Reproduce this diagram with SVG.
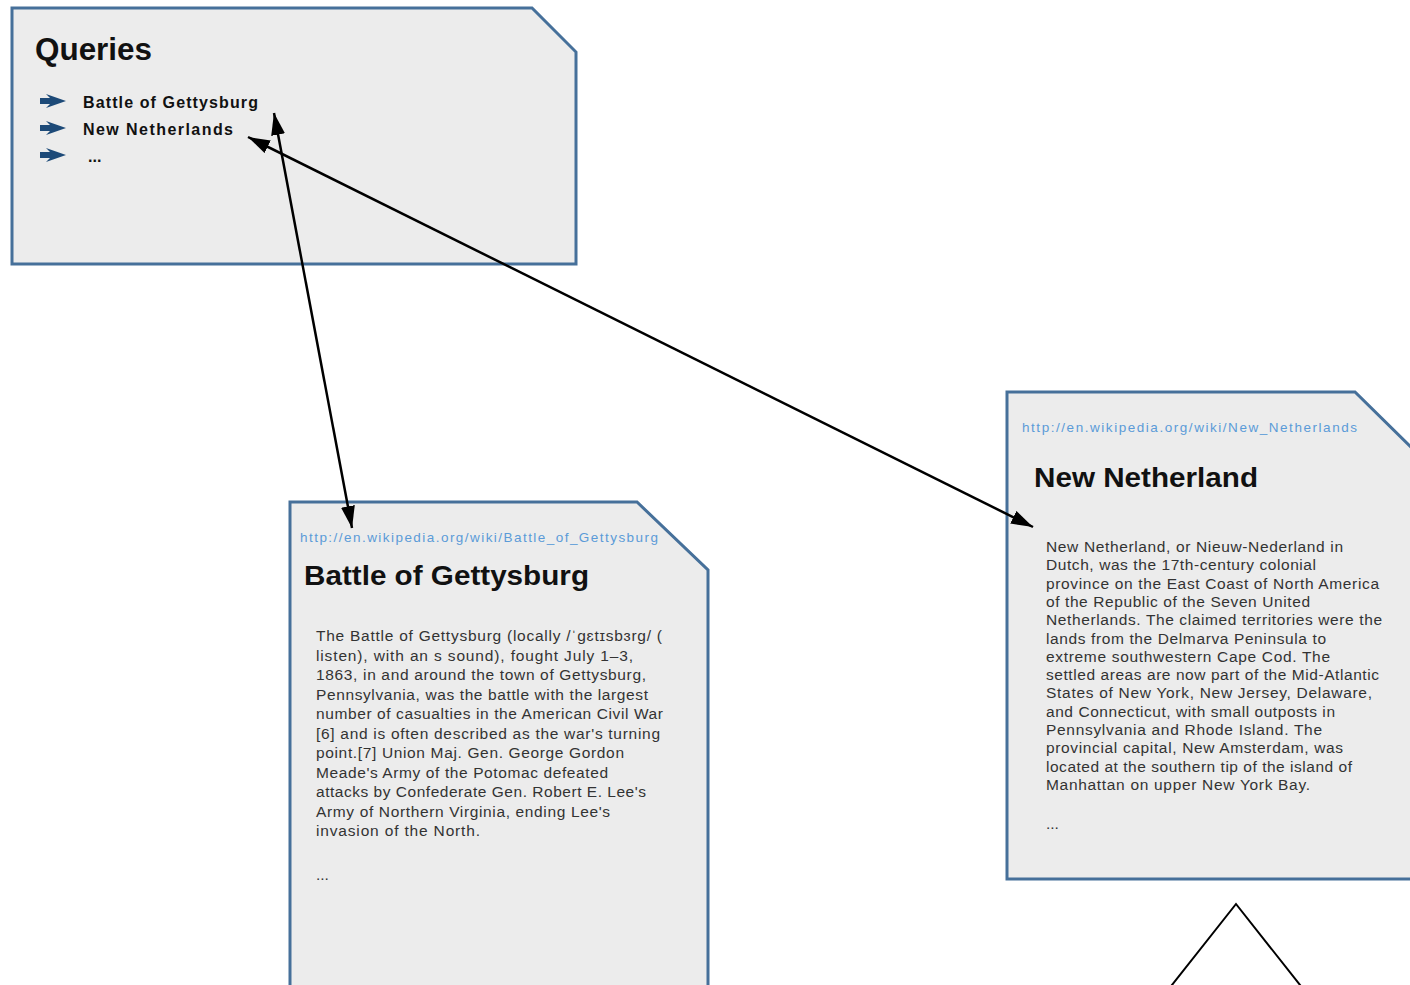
<svg xmlns="http://www.w3.org/2000/svg" width="1410" height="985" viewBox="0 0 1410 985">
  <style>
    .card { fill: #ececec; stroke: #46709a; stroke-width: 3; stroke-linejoin: miter; }
    .head { font-family: "Liberation Sans", Arial, sans-serif; font-weight: bold; fill: #111; }
    .item { font-family: "Liberation Sans", Arial, sans-serif; font-weight: bold; font-size: 16px; fill: #111; }
    .url { font-family: "Liberation Sans", Arial, sans-serif; font-size: 13.5px; fill: #5b9bd8; }
    .body { font-family: "Liberation Sans", Arial, sans-serif; font-size: 15.5px; fill: #333; }
    .bullet { fill: #1d4a78; }
    .link { stroke: #000; stroke-width: 2.5; fill: none; marker-start: url(#head); marker-end: url(#head); }
  </style>
  <defs>
    <marker id="head" markerUnits="userSpaceOnUse" markerWidth="24" markerHeight="16" refX="22" refY="7" orient="auto-start-reverse">
      <path d="M0,0 L22,7 L0,14 Z" fill="#000"/>
    </marker>
  </defs>

  <rect width="1410" height="985" fill="#fff"/>

  <!-- query list -->
  <g id="queries">
    <path class="card" d="M12,8 H532 L576,52 V264 H12 Z"/>
    <text class="head" x="35" y="60" font-size="31" textLength="117" lengthAdjust="spacingAndGlyphs">Queries</text>
    <path class="bullet" d="M40,98 H50 L46,94 L66,101 L46,108 L50,104 H40 Z"/>
    <path class="bullet" d="M40,125 H50 L46,121 L66,128 L46,135 L50,131 H40 Z"/>
    <path class="bullet" d="M40,152 H50 L46,148 L66,155 L46,162 L50,158 H40 Z"/>
    <text class="item" x="83" y="108" textLength="175" lengthAdjust="spacing">Battle of Gettysburg</text>
    <text class="item" x="83" y="135" textLength="150" lengthAdjust="spacing">New Netherlands</text>
    <text class="item" x="88" y="162" font-size="13">...</text>
  </g>

  <!-- article: Battle of Gettysburg -->
  <g id="gettysburg">
    <path class="card" d="M290,502 H637 L708,570 V995 H290 Z"/>
    <text class="url" x="300" y="542" textLength="358" lengthAdjust="spacing">http://en.wikipedia.org/wiki/Battle_of_Gettysburg</text>
    <text class="head" x="304" y="585" font-size="27" textLength="285" lengthAdjust="spacingAndGlyphs">Battle of Gettysburg</text>
    <g class="body">
      <text x="316" y="641" textLength="346" lengthAdjust="spacing">The Battle of Gettysburg (locally /ˈɡɛtɪsbɜrɡ/ (</text>
      <text x="316" y="660.5" textLength="317" lengthAdjust="spacing">listen), with an s sound), fought July 1–3,</text>
      <text x="316" y="680" textLength="330" lengthAdjust="spacing">1863, in and around the town of Gettysburg,</text>
      <text x="316" y="699.5" textLength="332" lengthAdjust="spacing">Pennsylvania, was the battle with the largest</text>
      <text x="316" y="719" textLength="347" lengthAdjust="spacing">number of casualties in the American Civil War</text>
      <text x="316" y="738.5" textLength="344" lengthAdjust="spacing">[6] and is often described as the war's turning</text>
      <text x="316" y="758" textLength="308" lengthAdjust="spacing">point.[7] Union Maj. Gen. George Gordon</text>
      <text x="316" y="777.5" textLength="292" lengthAdjust="spacing">Meade's Army of the Potomac defeated</text>
      <text x="316" y="797" textLength="330" lengthAdjust="spacing">attacks by Confederate Gen. Robert E. Lee's</text>
      <text x="316" y="816.5" textLength="294" lengthAdjust="spacing">Army of Northern Virginia, ending Lee's</text>
      <text x="316" y="836" textLength="164" lengthAdjust="spacing">invasion of the North.</text>
      <text x="316" y="880">...</text>
    </g>
  </g>

  <!-- article: New Netherland -->
  <g id="new-netherland">
    <path class="card" d="M1007,392 H1355 L1420,456 V879 H1007 Z"/>
    <text class="url" x="1022" y="432" textLength="335" lengthAdjust="spacing">http://en.wikipedia.org/wiki/New_Netherlands</text>
    <text class="head" x="1034" y="487" font-size="27" textLength="224" lengthAdjust="spacingAndGlyphs">New Netherland</text>
    <g class="body" font-size="15">
      <text x="1046" y="552" textLength="297" lengthAdjust="spacing">New Netherland, or Nieuw-Nederland in</text>
      <text x="1046" y="570.3" textLength="270" lengthAdjust="spacing">Dutch, was the 17th-century colonial</text>
      <text x="1046" y="588.6" textLength="333" lengthAdjust="spacing">province on the East Coast of North America</text>
      <text x="1046" y="606.9" textLength="264" lengthAdjust="spacing">of the Republic of the Seven United</text>
      <text x="1046" y="625.2" textLength="336" lengthAdjust="spacing">Netherlands. The claimed territories were the</text>
      <text x="1046" y="643.5" textLength="280" lengthAdjust="spacing">lands from the Delmarva Peninsula to</text>
      <text x="1046" y="661.8" textLength="284" lengthAdjust="spacing">extreme southwestern Cape Cod. The</text>
      <text x="1046" y="680.1" textLength="333" lengthAdjust="spacing">settled areas are now part of the Mid-Atlantic</text>
      <text x="1046" y="698.4" textLength="326" lengthAdjust="spacing">States of New York, New Jersey, Delaware,</text>
      <text x="1046" y="716.7" textLength="289" lengthAdjust="spacing">and Connecticut, with small outposts in</text>
      <text x="1046" y="735" textLength="276" lengthAdjust="spacing">Pennsylvania and Rhode Island. The</text>
      <text x="1046" y="753.3" textLength="297" lengthAdjust="spacing">provincial capital, New Amsterdam, was</text>
      <text x="1046" y="771.6" textLength="306" lengthAdjust="spacing">located at the southern tip of the island of</text>
      <text x="1046" y="789.9" textLength="264" lengthAdjust="spacing">Manhattan on upper New York Bay.</text>
      <text x="1046" y="829">...</text>
    </g>
  </g>

  <!-- partial shape at the bottom edge -->
  <g id="peak">
    <path d="M1168,990 L1236,904 L1304,990" fill="none" stroke="#000" stroke-width="2"/>
  </g>

  <!-- connectors -->
  <g id="connectors">
    <line class="link" x1="352" y1="528" x2="274" y2="113"/>
    <line class="link" x1="1033" y1="527" x2="248" y2="137"/>
  </g>
</svg>
